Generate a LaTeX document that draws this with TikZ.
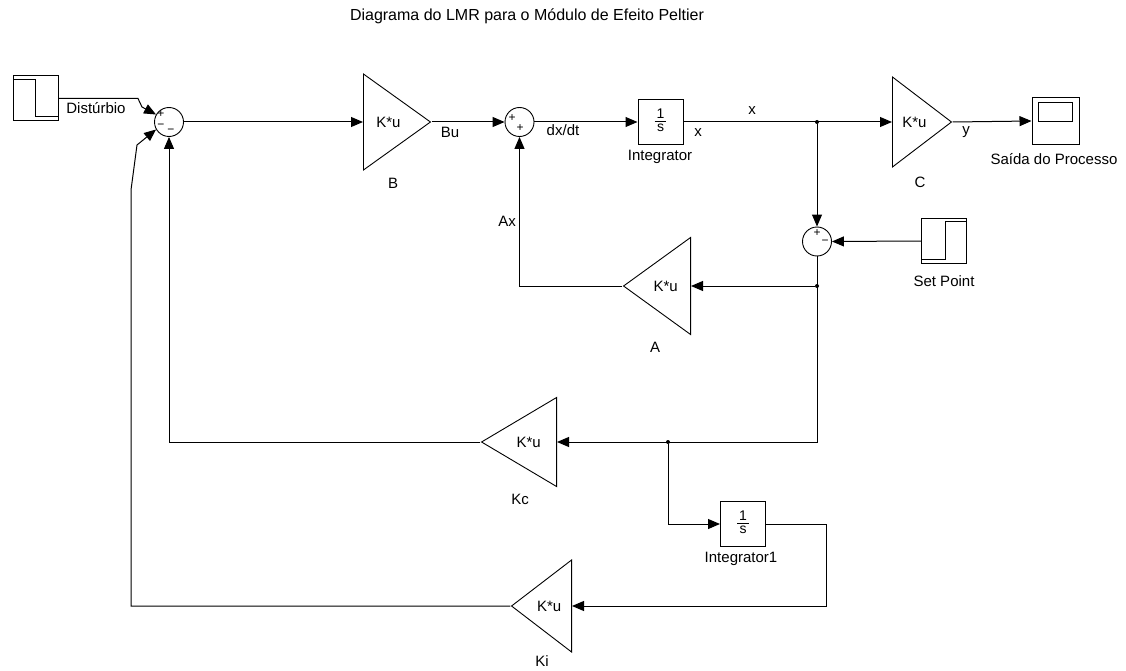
\documentclass[tikz,border=0pt]{standalone}
\usepackage{fontspec}
\setmainfont{Liberation Sans}
\usetikzlibrary{shapes.geometric,arrows.meta,calc}

\tikzset{
  wire/.style={line width=1pt},
  sig/.style={wire, -{Triangle[length=12pt,width=10pt]}},
  gain/.style={draw, line width=0.9pt, isosceles triangle, isosceles triangle stretches, inner sep=0pt, anchor=lower side},
  gainL/.style={gain, shape border rotate=180},
  sumc/.style={draw, circle, minimum size=29pt, inner sep=0pt, line width=0.9pt},
  blk/.style={draw, rectangle, minimum size=45pt, inner sep=0pt, line width=1pt},
  lbl/.style={font=\fontsize{15}{17}\selectfont, inner sep=1pt},
  sgn/.style={font=\fontsize{12}{12}\selectfont, inner sep=0pt},
  dot/.style={circle, fill, inner sep=0pt, minimum size=4pt},
}

\begin{document}
\begin{tikzpicture}[x=1pt,y=-1pt]
  \useasboundingbox (0,0) rectangle (1126,671);
  \node[lbl, font=\fontsize{16}{18}\selectfont] (title) at (527,16) {Diagrama do LMR para o Módulo de Efeito Peltier};

  % forward path
  \node[blk] (src) at (35.5,98.5) {};
  \draw[wire] (13,80) -- (35,80) -- (35,117) -- (58,117);
  \node[sumc] (s1) at (169,122) {};
  \node[gain, minimum height=67pt, minimum width=96pt] (gB) at (363,122) {};
  \node[sumc] (s2) at (519.5,122) {};
  \node[blk, font=\fontsize{14}{15}\selectfont] (int) at (660.5,122) {\begin{tabular}{@{\hspace{2pt}}c@{\hspace{2pt}}}1\\[-2pt]\hline s\end{tabular}};
  \node[gain, minimum height=59pt, minimum width=90pt] (gC) at (892,122) {};
  \node[blk, minimum size=47pt] (scope) at (1055.5,121) {};
  \draw[wire] ($(scope.north west)+(7,6)$) rectangle ($(scope.north east)+(-7,25)$);

  % error and feedback gains
  \node[sumc] (s3) at (817,241.5) {};
  \node[blk] (sp) at (944,241) {};
  \draw[wire] (921.5,259) -- (945,259) -- (945,221) -- (966.5,221);
  \node[gainL, minimum height=67pt, minimum width=97pt] (gA) at (691,286) {};
  \node[gainL, minimum height=75pt, minimum width=89pt] (gKc) at (557,442) {};
  \node[blk, font=\fontsize{14}{15}\selectfont] (int1) at (743,524) {\begin{tabular}{@{\hspace{2pt}}c@{\hspace{2pt}}}1\\[-2pt]\hline s\end{tabular}};
  \node[gainL, minimum height=60pt, minimum width=92pt] (gKi) at (572,606) {};
  \foreach \g in {gB,gC,gA,gKc,gKi}
    \node[lbl] (t\g) at ($(\g.lower side)!0.37!(\g.apex)$) {K*u};

  % signs
  \node[sgn] at (161,114) {+};
  \node[sgn] at (161,126) {\char"2212};
  \node[sgn] at (171,131) {\char"2212};
  \node[sgn] at (512,118) {+};
  \node[sgn] at (520,128) {+};
  \node[sgn] at (817,233) {+};
  \node[sgn] at (825,242) {\char"2212};

  % junctions
  \node[dot] (j1) at (817,122) {};
  \node[dot] (j2) at (817,286) {};
  \node[dot] (j3) at (668,442) {};

  % connectors
  \draw[sig] (src.east) -- (138,98.5) -- (142,107) -- (s1.150);
  \draw[sig] (s1.east) -- (gB.lower side);
  \draw[sig] (gB.apex) -- (s2.west);
  \draw[sig] (s2.east) -- (int.west);
  \draw[sig] (int.east) -- (gC.lower side);
  \draw[sig] (gC.apex) -- (scope.west);
  \draw[sig] (j1) -- (s3.north);
  \draw[sig] (sp.west) -- (s3.east);
  \draw[sig] (j2) -- (gA.lower side);
  \draw[sig] (s3.south) |- (gKc.lower side);
  \draw[sig] (gA.apex) -| (s2.south);
  \draw[sig] (gKc.apex) -| (s1.south);
  \draw[sig] (j3) |- (int1.west);
  \draw[sig] (int1.east) -- ++(60,0) |- (gKi.lower side);
  \draw[sig] (gKi.apex) -- (131,606) -- (131,190) -- (137,145) -- (s1.210);

  % signal labels
  \node[lbl] at (96,108) {Distúrbio};
  \node[lbl] at (450,132) {Bu};
  \node[lbl] at (563,130) {dx/dt};
  \node[lbl] at (698,133) {x};
  \node[lbl] at (752,111) {x};
  \node[lbl] at (966,132) {y};
  \node[lbl] at (507,221) {Ax};

  % block names
  \node[lbl] at (393,183) {B};
  \node[lbl] at (660,157) {Integrator};
  \node[lbl] at (920,182) {C};
  \node[lbl] at (1054,159) {Saída do Processo};
  \node[lbl] at (944,281) {Set Point};
  \node[lbl] at (655,347) {A};
  \node[lbl] at (520,499) {Kc};
  \node[lbl] at (741,559) {Integrator1};
  \node[lbl] at (542,661) {Ki};
\end{tikzpicture}
\end{document}
